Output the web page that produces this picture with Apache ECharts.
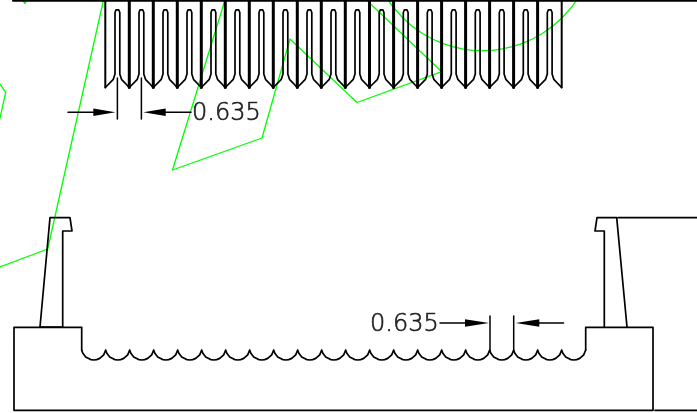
<!DOCTYPE html>
<html>
<head>
<meta charset="utf-8">
<style>html,body{margin:0;padding:0;background:#fff}#c{width:697px;height:413px}</style>
<script src="https://cdn.jsdelivr.net/npm/echarts@6/dist/echarts.min.js"></script>
</head>
<body>
<div id="c"></div>
<script>
// Drawing, in picture units (x right, y down).
const topEdge = [[13,0.8],[697,0.8]];
const leftPost = [[40,327],[50,217.7],[70,217.7],[72,231],[62.7,231],[62.7,327]];
const rightPost = [[604.3,327],[604.3,231],[595,231],[597,217.7],[616.7,217.7],[627,327]];
const rightLead = [[618,217.7],[697,217.7]];
const baseOutline = [[81.7,350],[81.7,327.3],[14,327.3],[14,410.3],[653,410.3],[653,327.3],[585.7,327.3],[585.7,350]];
const postFoot = [[40,327],[62.7,327]];
const rightTail = [[655,410.3],[697,410.3]];

const pinX = [105.3,129.3,153.3,177.3,201.3,225.3,249.3,273.3,297.3,321.3,345.3,369.5,393.6,417.6,441.6,465.6,489.6,513.6,537.6,561.7];
const pinTipY = 87.5;
const slotDx = [8,9.7,9.7,10,10.8,12.1,13.4,14.2,14.5,14.5,16.2,24];
const slotY = [79.3,74,12.5,10.8,9.8,9.3,9.8,10.8,12.5,74,79.3,87.5];

const cuspX = [81.7,105.7,129.7,153.7,177.7,201.7,225.7,249.7,273.7,297.7,321.7,345.7,369.7,393.7,417.7,441.7,465.7,489.7,513.7,537.7,561.7,585.7];
const scallopDx = [1,2,4,6,9,12,15,18,20,22,23,24];
const scallopY = [353.1,354.8,357,358.4,359.6,360,359.6,358.4,357,354.8,353.1,350];

const greenA = [[0,84],[5.7,92.3],[0,118]];
const greenB = [[0,267],[47.7,249],[103.5,0]];
const greenC = [[225,0],[172.5,170],[262,138],[290,39],[357,102.5],[441.7,71.7],[366.5,0]];
const greenArc = [[388,0],[392.4,6.1],[402.4,17.5],[412.4,26.4],[422.4,33.5],[432.4,39],[442.4,43.4],[452.4,46.6],[462.4,48.9],[472.4,50.3],[482.4,50.7],[492.4,50.3],[502.4,48.9],[512.4,46.6],[522.4,43.4],[532.4,39],[542.4,33.5],[552.4,26.4],[562.4,17.5],[572.4,6.1],[576.7,0]];
const greenTick = [[22.5,0],[25,3.5],[26.5,0]];

const dimLines = [
  [[68,112.3],[100,112.3]], [[117.4,78],[117.4,119]], [[141.4,78],[141.4,119]], [[158,112.3],[191,112.3]],
  [[440,323],[472,323]], [[490,316],[490,350]], [[513.7,316],[513.7,350]], [[532,323],[563.5,323]]
];
const arrowHeads = [[115.5,112.3,93.3],[143.3,112.3,165.7],[489,323,465],[515.7,323,539.3]];
const dimLabels = [{x:192,y:114,t:'0.635'},{x:370,y:324.5,t:'0.635'}];

const comb = [];
pinX.slice(0,-1).forEach(x=>{
  comb.push([x,pinTipY]);
  slotDx.forEach((d,i)=>comb.push([x+d,slotY[i]]));
});
const scallops = [];
cuspX.slice(0,-1).forEach(x=>{
  scallops.push([x,350]);
  scallopDx.forEach((d,i)=>scallops.push([x+d,scallopY[i]]));
});
const pinLines = pinX.map(x=>[[x,0],[x,pinTipY]]);

const line = (data,color,width)=>({type:'line',data,symbol:'none',silent:true,animation:false,clip:false,
  lineStyle:{color,width,cap:'round',join:'round'}});
const series = [];
[greenA,greenB,greenC,greenArc,greenTick].forEach(d=>series.push(line(d,'#00ff00',1.3)));
series.push(line(comb,'#000',1.7));
pinLines.forEach((d,i)=>series.push(line(d,'#000',i===0||i===pinLines.length-1?2:3)));
[topEdge].forEach(d=>series.push(line(d,'#000',2)));
[leftPost,rightPost,rightLead,baseOutline,postFoot,scallops,rightTail].forEach(d=>series.push(line(d,'#000',1.7)));
dimLines.forEach(d=>series.push(line(d,'#000',1.5)));
series.push({type:'custom',silent:true,animation:false,clip:false,data:arrowHeads,
  renderItem:(p,api)=>{
    const tip=api.coord([api.value(0),api.value(1)]);
    const a=api.coord([api.value(2),api.value(1)-3.8]);
    const b=api.coord([api.value(2),api.value(1)+3.8]);
    return {type:'polygon',shape:{points:[tip,a,b]},style:{fill:'#000'}};
  }});
series.push({type:'scatter',silent:true,animation:false,clip:false,symbolSize:0,
  data:dimLabels.map(d=>({value:[d.x,d.y],name:d.t})),
  label:{show:true,position:'right',distance:0,formatter:'{b}',color:'#000',
    textBorderColor:'#000',textBorderWidth:0.7,
    fontFamily:'"DejaVu Sans ExtraLight","DejaVu Sans"',fontWeight:200,fontSize:24}});

const chart = echarts.init(document.getElementById('c'),null,{renderer:'canvas'});
chart.setOption({
  animation:false,backgroundColor:'#fff',
  grid:{left:0,right:0,top:0,bottom:0},
  xAxis:{type:'value',min:0,max:697,show:false},
  yAxis:{type:'value',min:0,max:413,inverse:true,show:false},
  tooltip:{show:false},legend:{show:false},
  series
});
</script>
</body>
</html>
